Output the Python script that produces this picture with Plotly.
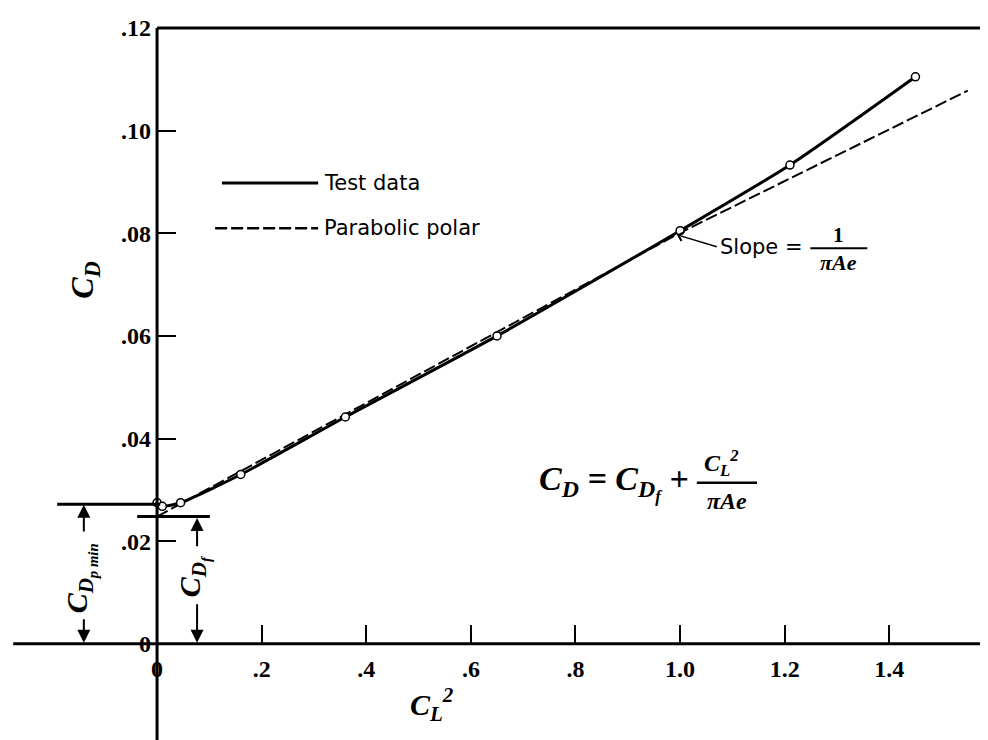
import plotly.graph_objects as go

# --- Data ---
CL2_TEST = [0.0, 0.01, 0.045, 0.16, 0.36, 0.65, 1.0, 1.21, 1.45]
CD_TEST = [0.0275, 0.0268, 0.0275, 0.0330, 0.0442, 0.0600, 0.0805, 0.0933, 0.1105]

CL2_POLAR = [0.0, 1.0, 1.55]
CD_POLAR = [0.0248, 0.0801, 0.1078]

CD_F = 0.0248
CD_P_MIN = 0.0272

X_TICKS = [0, 0.2, 0.4, 0.6, 0.8, 1.0, 1.2, 1.4]
X_TICK_LABELS = ["0", ".2", ".4", ".6", ".8", "1.0", "1.2", "1.4"]
Y_TICKS = [0, 0.02, 0.04, 0.06, 0.08, 0.10, 0.12]
Y_TICK_LABELS = ["0", ".02", ".04", ".06", ".08", ".10", ".12"]

# the page body adds an 8px offset, ranges are shifted to make up for it
X_RANGE = [-0.285, 1.604]
Y_RANGE = [-0.0203, 0.1239]

SERIF = "Liberation Serif"
SANS = "DejaVu Sans"


def line(x0, y0, x1, y1, width=3, dash="solid"):
    return dict(type="line", xref="x", yref="y", x0=x0, y0=y0, x1=x1, y1=y1,
                line=dict(color="black", width=width, dash=dash))


def arrow(x, y, ax, ay, head=2, size=1.3, width=2):
    return dict(x=x, y=y, ax=ax, ay=ay, xref="x", yref="y", axref="x", ayref="y",
                text="", showarrow=True, arrowhead=head, arrowsize=size,
                arrowwidth=width, arrowcolor="black")


def text(x, y, s, size=21, family=SANS, anchor="center", angle=0, math=False, bold=False):
    font = dict(family=family, size=size, color="black")
    if math:
        font.update(style="italic", weight="bold")
    if bold:
        font.update(weight="bold")
    return dict(x=x, y=y, xref="x", yref="y", text=s, showarrow=False,
                xanchor=anchor, yanchor="middle", textangle=angle, font=font)


def create_chart():
    fig = go.Figure()

    # parabolic polar (dashed) under the test curve
    fig.add_trace(go.Scatter(x=CL2_POLAR, y=CD_POLAR, mode="lines",
                             line=dict(color="black", width=2, dash="12px,4px")))
    # test data curve + open circle points
    fig.add_trace(go.Scatter(x=CL2_TEST, y=CD_TEST, mode="lines",
                             line=dict(color="black", width=3, shape="spline", smoothing=0.6)))
    fig.add_trace(go.Scatter(x=CL2_TEST, y=CD_TEST, mode="markers",
                             marker=dict(symbol="circle", size=8, color="white",
                                         line=dict(color="black", width=1.5))))

    shapes = [
        # axes drawn by hand so they cross at the origin
        line(-0.275, 0, X_RANGE[1], 0, width=3),
        line(0, Y_RANGE[0], 0, 0.12, width=3),
        line(0, 0.12, X_RANGE[1], 0.12, width=3),
        # C_D p min and C_D f reference lines
        line(-0.191, CD_P_MIN, 0.006, CD_P_MIN, width=3),
        line(-0.038, CD_F, 0.101, CD_F, width=3),
        # legend samples
        line(0.124, 0.0898, 0.308, 0.0898, width=3),
        line(0.111, 0.0810, 0.308, 0.0810, width=2.5, dash="12px,4px"),
        # fraction bars
        line(1.249, 0.0771, 1.358, 0.0771, width=2),
        line(1.032, 0.0314, 1.147, 0.0314, width=2.5),
    ]

    annotations = [
        # legend text
        text(0.315, 0.0898, "Test data", anchor="left"),
        text(0.315, 0.0810, "Parabolic polar", anchor="left"),
        # slope note
        arrow(0.994, 0.0797, 1.073, 0.0773, head=4, size=1.2, width=1.5),
        text(1.239, 0.0773, "Slope =", anchor="right"),
        text(1.302, 0.0797, "1", size=21, family=SERIF, bold=True),
        text(1.302, 0.0744, "\u03c0Ae", size=22, family=SERIF, math=True),
        # formula
        text(1.020, 0.0314, "C<sub>D</sub> = C<sub>D<sub>f</sub></sub> +",
             size=34, family=SERIF, anchor="right", math=True),
        text(1.080, 0.0352, "C<sub>L</sub><sup>2</sup>", size=24, family=SERIF, math=True),
        text(1.090, 0.0278, "\u03c0Ae", size=24, family=SERIF, math=True),
        # axis titles
        text(-0.138, 0.0709, "C<sub>D</sub>", size=32, family=SERIF, angle=-90, math=True),
        text(0.526, -0.0119, "C<sub>L</sub><sup>2</sup>", size=30, family=SERIF, math=True),
        # C_D p min bracket
        arrow(-0.140, 0.0271, -0.140, 0.0216),
        arrow(-0.140, 0.0002, -0.140, 0.0051),
        text(-0.147, 0.0128, "C<sub>D<sub>p min</sub></sub>", size=30, family=SERIF,
             angle=-90, math=True),
        # C_D f bracket
        arrow(0.0765, 0.0245, 0.0765, 0.0187),
        arrow(0.0765, 0.0002, 0.0765, 0.0080),
        text(0.070, 0.0131, "C<sub>D<sub>f</sub></sub>", size=30, family=SERIF,
             angle=-90, math=True),
    ]

    tick_font = dict(family=SERIF, size=24, color="black", weight="bold")
    fig.update_layout(
        width=988, height=740,
        margin=dict(l=0, r=0, t=0, b=0),
        paper_bgcolor="white", plot_bgcolor="white",
        showlegend=False,
        shapes=shapes,
        annotations=annotations,
        xaxis=dict(range=X_RANGE, anchor="free",
                   position=(0 - Y_RANGE[0]) / (Y_RANGE[1] - Y_RANGE[0]),
                   showgrid=False, zeroline=False, showline=False,
                   ticks="inside", ticklen=19, tickwidth=2, tickcolor="black",
                   tickvals=X_TICKS, ticktext=X_TICK_LABELS, tickfont=tick_font,
                   ticklabelstandoff=8),
        yaxis=dict(range=Y_RANGE, anchor="free",
                   position=(0 - X_RANGE[0]) / (X_RANGE[1] - X_RANGE[0]),
                   showgrid=False, zeroline=False, showline=False,
                   ticks="inside", ticklen=18, tickwidth=2, tickcolor="black",
                   tickvals=Y_TICKS, ticktext=Y_TICK_LABELS, tickfont=tick_font,
                   ticklabelstandoff=6),
    )

    fig.write_html("out.html")


if __name__ == "__main__":
    create_chart()
